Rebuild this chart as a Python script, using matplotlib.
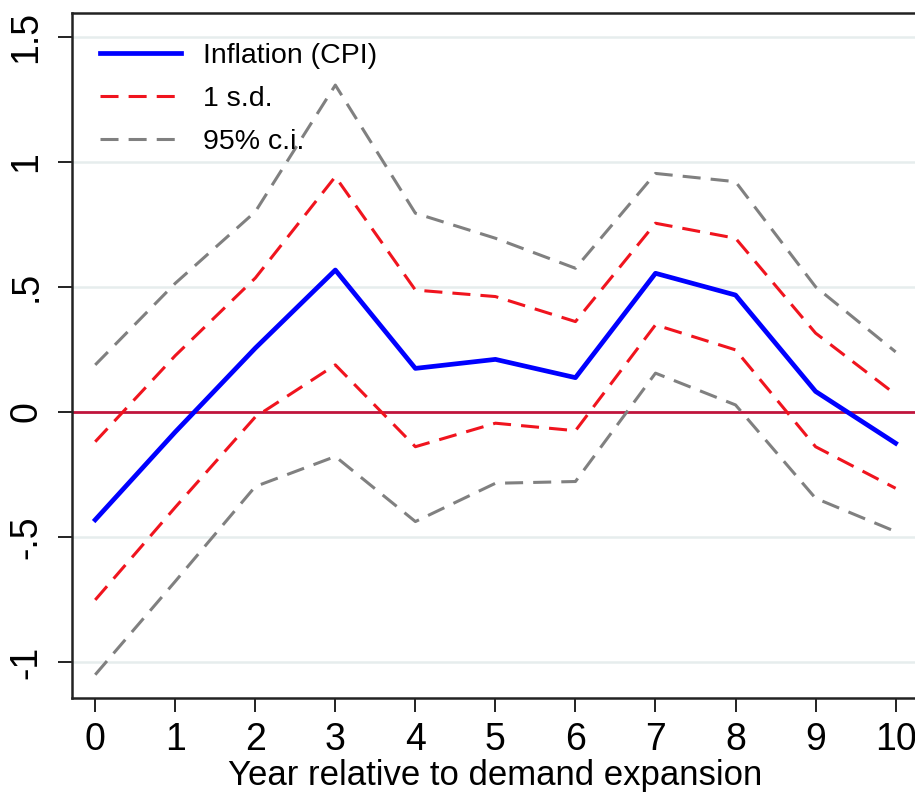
import matplotlib
matplotlib.use("Agg")
import matplotlib.pyplot as plt
import numpy as np

# values
years = [0, 1, 2, 3, 4, 5, 6, 7, 8, 9, 10]
inflation = [-0.431, -0.08, 0.255, 0.567, 0.174, 0.21, 0.137, 0.554, 0.467, 0.082, -0.125]
sd_upper = [-0.119, 0.225, 0.535, 0.94, 0.487, 0.461, 0.361, 0.754, 0.694, 0.315, 0.07]
sd_lower = [-0.751, -0.381, -0.02, 0.188, -0.139, -0.045, -0.075, 0.348, 0.248, -0.139, -0.305]
ci_upper = [0.188, 0.514, 0.80, 1.306, 0.794, 0.694, 0.574, 0.953, 0.92, 0.50, 0.24]
ci_lower = [-1.05, -0.677, -0.298, -0.178, -0.438, -0.285, -0.278, 0.155, 0.028, -0.345, -0.478]

yticks = [-1, -0.5, 0, 0.5, 1, 1.5]
ytick_labels = ['-1', '-.5', '0', '.5', '1', '1.5']

plt.rcParams['font.family'] = ['Liberation Sans', 'DejaVu Sans']

fig = plt.figure(figsize=(9.15, 7.93), dpi=100)
ax = fig.add_axes([0.0787, 0.1198, 0.9246, 0.8638])

# light grid at the major ticks, zero line in cranberry
for yv in yticks:
    if yv != 0:
        ax.axhline(yv, color='#e6eded', lw=1.8, zorder=0)
ax.axhline(0, color='#c0143c', lw=2.0, zorder=1)

dash = (0, (5.9, 3.3))
ax.plot(years, inflation, color='#0000ff', lw=3.4, label='Inflation (CPI)', zorder=4)
ax.plot(years, sd_upper, color='#f0141e', lw=2.2, linestyle=dash, label='1 s.d.', zorder=3)
ax.plot(years, sd_lower, color='#f0141e', lw=2.2, linestyle=dash, zorder=3)
ax.plot(years, ci_upper, color='#808080', lw=2.2, linestyle=dash, label='95% c.i.', zorder=2)
ax.plot(years, ci_lower, color='#808080', lw=2.2, linestyle=dash, zorder=2)

ax.set_xlim(-0.29, 10.28)
ax.set_ylim(-1.143, 1.594)

ax.set_xticks(years)
ax.set_xticklabels([str(y) for y in years], fontsize=27)
ax.set_yticks(yticks)
ax.set_yticklabels(ytick_labels, fontsize=27, rotation=90, va='center')
ax.tick_params(axis='both', direction='out', length=10, width=1.4, color='#222222')
ax.tick_params(axis='x', pad=7)
ax.tick_params(axis='y', pad=10)

for s in ax.spines.values():
    s.set_linewidth(1.8)
    s.set_color('#222222')

ax.set_xlabel('Year relative to demand expansion', fontsize=25, labelpad=1)

ax.legend(loc='upper left', bbox_to_anchor=(0.033, 0.956), frameon=False,
          fontsize=20.5, handlelength=2.85, handletextpad=0.77, labelspacing=0.6,
          borderpad=0, borderaxespad=0)

fig.savefig('out.png', dpi=100)
